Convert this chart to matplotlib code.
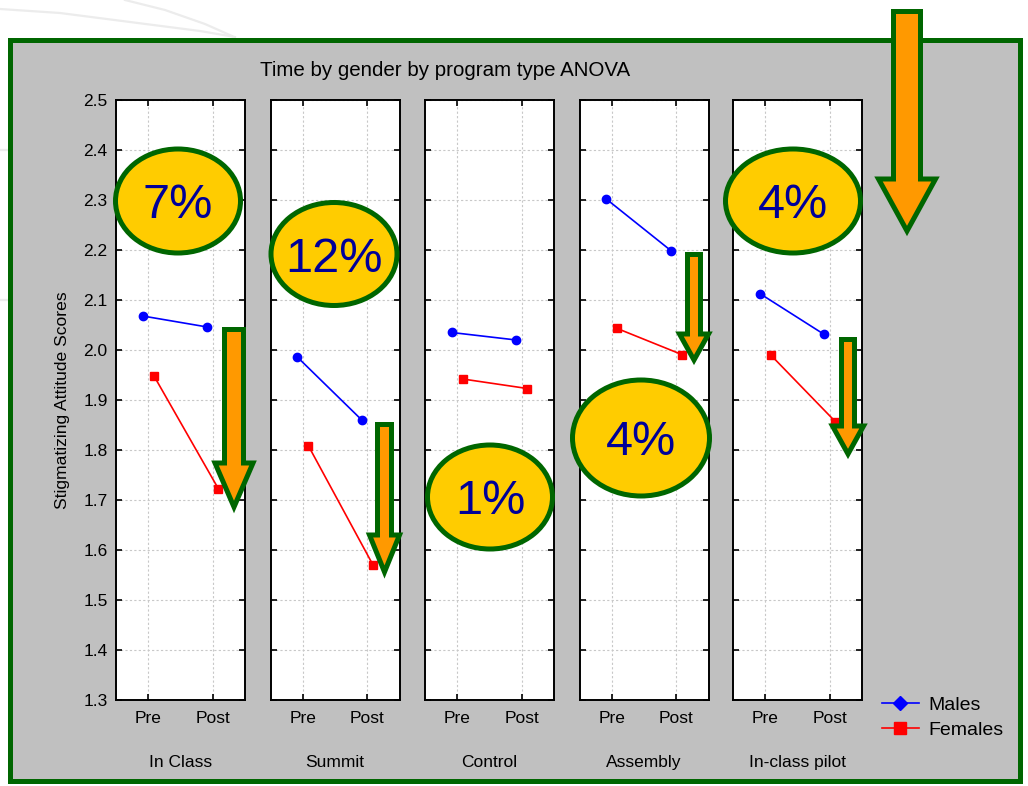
import numpy as np
import matplotlib
matplotlib.use("Agg")
import matplotlib.pyplot as plt
from matplotlib.patches import Rectangle, Ellipse, Polygon
from matplotlib.lines import Line2D

plt.rcParams['font.family'] = ['Liberation Sans', 'DejaVu Sans']

# ---------------- data ----------------
programs = ["In Class", "Summit", "Control", "Assembly", "In-class pilot"]
times = ["Pre", "Post"]
males_pre = [2.068, 1.986, 2.035, 2.302, 2.113]
males_post = [2.046, 1.860, 2.020, 2.199, 2.031]
females_pre = [1.949, 1.809, 1.942, 2.043, 1.990]
females_post = [1.723, 1.571, 1.923, 1.991, 1.857]
pct_labels = ["7%", "12%", "1%", "4%", "4%"]
y_ticks = [1.3, 1.4, 1.5, 1.6, 1.7, 1.8, 1.9, 2.0, 2.1, 2.2, 2.3, 2.4, 2.5]
series_names = ["Males", "Females"]
title = "Time by gender by program type ANOVA"
ylabel = "Stigmatizing Attitude Scores"

# ---------------- layout (pixels) ----------------
W, H = 1028, 786
DPI = 100
fig = plt.figure(figsize=(W / DPI, H / DPI), dpi=DPI, facecolor="white")

def fx(x):
    return x / W

def fy(y):
    return 1 - y / H

GREEN = "#006600"
GRAY = "#C0C0C0"
YELLOW = "#FFCC00"
ORANGE = "#FF9900"
TXTBLUE = "#000099"

# faint background swooshes
for pts in ([(0, 9), (60, 13), (130, 22), (200, 31), (235, 37)],
            [(125, 0), (165, 10), (205, 24), (232, 36)],
            [(0, 150), (8, 150)], [(0, 300), (8, 300)]):
    xs = [fx(p[0]) for p in pts]
    ys = [fy(p[1]) for p in pts]
    fig.add_artist(Line2D(xs, ys, transform=fig.transFigure, color="#ececec",
                          lw=1.6, zorder=-3))

# gray frame with green border
fig.add_artist(Rectangle((fx(10), fy(781)), fx(1020) - fx(10), fy(40) - fy(781),
                         transform=fig.transFigure, facecolor=GRAY,
                         edgecolor=GREEN, lw=3.6, zorder=-2))

panel_left = [116, 270.5, 425, 579.5, 733]
panel_w = 129
top_px, bot_px = 100, 700
offset = 0.085
x_pos = np.arange(len(times))

axes = []
for i, prog in enumerate(programs):
    ax = fig.add_axes([fx(panel_left[i]), fy(bot_px), panel_w / W, (bot_px - top_px) / H])
    ax.set_facecolor("white")
    ax.set_xlim(-0.5, 1.5)
    ax.set_ylim(1.3, 2.5)
    ax.set_yticks(y_ticks)
    ax.set_yticklabels([f"{v:.1f}" for v in y_ticks])
    ax.set_xticks(x_pos)
    ax.set_xticklabels(times)
    ax.grid(True, color="#c8c8c8", linestyle=(0, (2, 2)), lw=0.8)
    ax.set_axisbelow(True)
    ax.tick_params(direction="in", top=True, right=True, length=4, width=1.2,
                   labelsize=12.5, colors="black", pad=6)
    ax.tick_params(axis="x", pad=8)
    if i > 0:
        ax.tick_params(labelleft=False)
    for s in ax.spines.values():
        s.set_linewidth(1.4)
        s.set_color("black")
    ax.plot(x_pos - offset, [males_pre[i], males_post[i]], color="#0000FF",
            marker="o", markersize=6, lw=1.2, label=series_names[0])
    ax.plot(x_pos + offset, [females_pre[i], females_post[i]], color="#FF0000",
            marker="s", markersize=6, lw=1.2, label=series_names[1])
    ax.set_xlabel(prog, fontsize=12.5, labelpad=21)
    axes.append(ax)

fig.text(fx(445), fy(70), title, fontsize=14.8, ha="center", va="center")
fig.text(fx(62.5), fy(400), ylabel, fontsize=12.6, rotation=90, ha="center", va="center")

# legend
h, l = axes[0].get_legend_handles_labels()
leg = fig.legend(h, l, loc="center left", bbox_to_anchor=(fx(882), fy(717.5)),
                 frameon=False, fontsize=14, handlelength=1.9, handletextpad=0.5,
                 labelspacing=0.35, borderpad=0, borderaxespad=0)
leg.legend_handles[0].set_marker("D")
leg.legend_handles[0].set_markersize(7)
leg.legend_handles[1].set_markersize(8)

# annotation ellipses (pixel centre, width, height)
ell_cx = [178, 334, 490, 641, 793]
ell_cy = [201, 254, 497, 438, 201]
ell_w = [125, 126, 125, 137, 135]
ell_h = [104, 103, 104, 116, 104]
for i in range(len(pct_labels)):
    fig.add_artist(Ellipse((fx(ell_cx[i]), fy(ell_cy[i])), ell_w[i] / W, ell_h[i] / H,
                           transform=fig.transFigure, facecolor=YELLOW,
                           edgecolor=GREEN, lw=3.6, zorder=10))
    fig.text(fx(ell_cx[i]), fy(ell_cy[i] + 5), pct_labels[i], fontsize=35,
             color=TXTBLUE, ha="center", va="center", zorder=11)

# annotation arrows: centre x, shaft top, shaft half-width, head half-width, head start, tip
arrows = [
    (234, 329.5, 9.5, 19, 463, 507),
    (384.5, 424.5, 7, 15, 535, 572),
    (907, 11.5, 13.5, 28.5, 179, 231),
    (694, 254.5, 6.5, 14.5, 334, 360),
    (848, 339.5, 6.5, 15.5, 426, 454),
]
for cx, top, sw, hw, hy, tip in arrows:
    pts = [(cx - sw, top), (cx + sw, top), (cx + sw, hy), (cx + hw, hy), (cx, tip),
           (cx - hw, hy), (cx - sw, hy)]
    fig.add_artist(Polygon([(fx(x), fy(y)) for x, y in pts], closed=True,
                           transform=fig.transFigure, facecolor=ORANGE,
                           edgecolor=GREEN, lw=3.6, joinstyle="miter", zorder=12))

fig.savefig("out.png", dpi=DPI, facecolor="white")
